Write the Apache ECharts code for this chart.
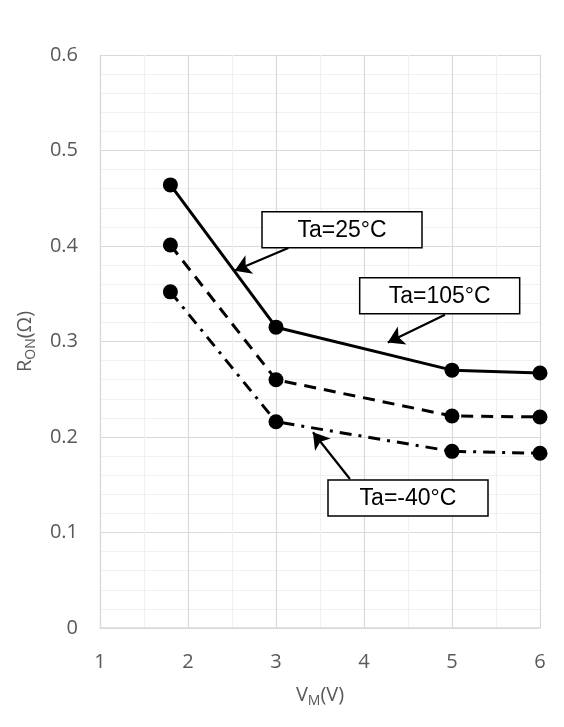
<!DOCTYPE html>
<html><head><meta charset="utf-8">
<script src="https://cdn.jsdelivr.net/npm/echarts@6/dist/echarts.min.js"></script>
<style>html,body{margin:0;padding:0;background:#fff}#c{width:564px;height:727px}</style>
</head><body><div id="c"></div>
<script>
var vm = [1.8, 3, 5, 6];
var ta25 = [0.464, 0.315, 0.270, 0.267];
var ta105 = [0.401, 0.260, 0.222, 0.221];
var taM40 = [0.352, 0.216, 0.185, 0.183];
var xTicks = [1, 2, 3, 4, 5, 6];
var yTicks = [0, 0.1, 0.2, 0.3, 0.4, 0.5, 0.6];
// annotation boxes: label, center (data coords)
var boxLabels = ['Ta=25°C', 'Ta=105°C', 'Ta=-40°C'];
var boxCenters = [[3.75, 0.417], [4.86, 0.348], [4.5, 0.136]];
// arrows: from (data coords) -> to
var arrowFrom = [[3.14, 0.398], [4.92, 0.328], [3.84, 0.156]];
var arrowTo = [[2.53, 0.374], [4.27, 0.299], [3.42, 0.205]];

function pts(ys){ return vm.map(function(x,i){return [x, ys[i]];}); }

var chart = echarts.init(document.getElementById('c'));
var labelFont = 'Open Sans, Noto Sans, sans-serif';
var mk = {symbol:'circle', symbolSize:15, itemStyle:{color:'#000'}};
chart.setOption({
  animation:false,
  grid:{left:100, right:24, top:55, bottom:99},
  xAxis:{type:'value', min:xTicks[0], max:xTicks[xTicks.length-1], interval:1,
    axisLine:{show:true, lineStyle:{color:'#d9d9d9', width:1.5}}, axisTick:{show:false},
    axisLabel:{color:'#595959', fontSize:20, fontFamily:labelFont, margin:24},
    splitLine:{show:true, lineStyle:{color:'#d9d9d9', width:1.2}},
    minorTick:{show:false, splitNumber:2},
    minorSplitLine:{show:true, lineStyle:{color:'#f0f0f0', width:1.2}},
    name:'{a|V}{s|M}{a|(V)}', nameLocation:'middle', nameGap:54,
    nameTextStyle:{rich:{a:{fontSize:20,color:'#595959',fontFamily:labelFont},s:{fontSize:14,color:'#595959',fontFamily:labelFont,padding:[12,0,0,0]}}}
  },
  yAxis:{type:'value', min:yTicks[0], max:yTicks[yTicks.length-1], interval:0.1,
    axisLine:{show:true, lineStyle:{color:'#d9d9d9', width:1.2}}, axisTick:{show:false},
    axisLabel:{color:'#595959', fontSize:20, fontFamily:labelFont, margin:22},
    splitLine:{show:true, lineStyle:{color:'#d9d9d9', width:1.2}},
    minorTick:{show:false, splitNumber:5},
    minorSplitLine:{show:true, lineStyle:{color:'#f0f0f0', width:1.2}},
    name:'{a|R}{s|ON}{a|(Ω)}', nameLocation:'middle', nameGap:62, nameRotate:90,
    nameTextStyle:{rich:{a:{fontSize:20,color:'#595959',fontFamily:labelFont},s:{fontSize:14,color:'#595959',fontFamily:labelFont,padding:[12,0,0,0]}}}
  },
  series:[
    Object.assign({type:'line', data:pts(ta25), lineStyle:{color:'#000', width:3, type:'solid'},
      markLine:{silent:true, symbol:['none','arrow'], symbolSize:[15,16],
        lineStyle:{color:'#000', width:2.2, type:'solid'}, label:{show:false},
        data:arrowFrom.map(function(f,i){return [{coord:f},{coord:arrowTo[i]}];})},
      z:3}, mk),
    Object.assign({type:'line', data:pts(ta105), lineStyle:{color:'#000', width:3, type:[12,8]}}, mk),
    Object.assign({type:'line', data:pts(taM40), lineStyle:{color:'#000', width:3, type:[12,7,3,7]}}, mk)
  ]
});
var W = 160, H = 36;
chart.setOption({graphic: boxLabels.map(function(l,i){
  var p = chart.convertToPixel({gridIndex:0}, boxCenters[i]);
  return {type:'group', x:p[0], y:p[1], z:100, children:[
    {type:'rect', shape:{x:-W/2, y:-H/2, width:W, height:H},
      style:{fill:'#fff', stroke:'#000', lineWidth:1.5}},
    {type:'text', style:{text:l, x:0, y:1, align:'center', verticalAlign:'middle',
      font:'23px "Liberation Sans", Arial, sans-serif', fill:'#000'}}
  ]};
})});
</script></body></html>
